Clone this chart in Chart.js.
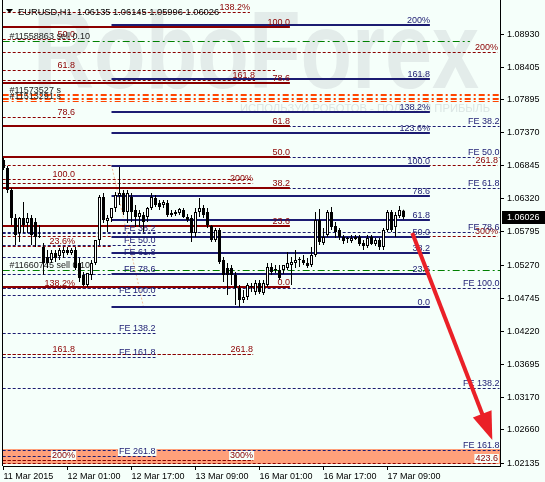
<!DOCTYPE html>
<html><head><meta charset="utf-8">
<script src="https://cdn.jsdelivr.net/npm/chart.js@4.4.1/dist/chart.umd.min.js"></script>
<style>html,body{margin:0;padding:0;background:#f5fffa;}canvas{display:block;}</style>
</head><body>
<canvas id="c" width="545" height="482"></canvas>
<script>
// ---------- data ----------
const symbolTitle = "EURUSD,H1";
const lastOHLC = ["1.06135", "1.06145", "1.05996", "1.06026"];
const lastPrice = 1.06026;
const xTickIndex = [0, 16, 32, 48, 64, 80, 96];
const xTickLabels = ["11 Mar 2015", "12 Mar 01:00", "12 Mar 17:00", "13 Mar 09:00", "16 Mar 01:00", "16 Mar 17:00", "17 Mar 09:00"];
const priceTicks = [1.02135, 1.02660, 1.03170, 1.03695, 1.04220, 1.04745, 1.05270, 1.05795, 1.06320, 1.06845, 1.07370, 1.07895, 1.08405, 1.08930];
const priceMin = 1.02088, priceMax = 1.09469;
const barMin = -0.125, barMax = 124.125;

const openP = [
1.06935,1.06808,1.06460,1.06016,1.05779,1.06016,1.05937,1.06016,1.05953,1.05715,
1.05557,1.05398,1.05351,1.05462,1.05414,1.05462,1.05509,1.05462,1.05509,1.05303,
1.05113,1.04955,1.05113,1.05303,1.05668,1.06349,1.05969,1.06016,1.06175,1.06365,
1.06412,1.06111,1.06349,1.06143,1.06032,1.06064,1.06032,1.06175,1.06333,1.06254,
1.06222,1.06254,1.06095,1.06080,1.06095,1.06143,1.06032,1.06016,1.05779,1.06111,
1.06175,1.06111,1.05889,1.05668,1.05826,1.05351,1.05224,1.05224,1.05113,1.04907,
1.04717,1.04765,1.04923,1.04844,1.04987,1.04828,1.04955,1.05240,1.05193,1.05193,
1.05193,1.05224,1.05272,1.05303,1.05351,1.05351,1.05303,1.05272,1.05430,1.05984,
1.05620,1.05747,1.06111,1.05889,1.05826,1.05715,1.05684,1.05652,1.05715,1.05715,
1.05620,1.05573,1.05715,1.05604,1.05668,1.05557,1.05826,1.06111,1.05873,1.06048,
1.06135];
const highP = [
1.06966,1.06840,1.06491,1.06080,1.06032,1.06270,1.06095,1.06064,1.06016,1.05905,
1.05620,1.05509,1.05509,1.05509,1.05541,1.05557,1.05557,1.05541,1.05557,1.05382,
1.05161,1.05066,1.05351,1.05668,1.06380,1.06412,1.06064,1.06095,1.06428,1.06824,
1.06460,1.06460,1.06412,1.06222,1.06143,1.06111,1.06190,1.06412,1.06380,1.06301,
1.06301,1.06301,1.06143,1.06143,1.06175,1.06175,1.06080,1.06064,1.06175,1.06333,
1.06222,1.06175,1.05905,1.05858,1.05858,1.05398,1.05303,1.05272,1.05161,1.04955,
1.04876,1.04987,1.04987,1.05034,1.05034,1.05034,1.05303,1.05303,1.05272,1.05272,
1.05272,1.05478,1.05398,1.05509,1.05398,1.05430,1.05382,1.05557,1.06111,1.06159,
1.05858,1.06143,1.06190,1.05953,1.05858,1.05747,1.05715,1.05747,1.05747,1.05747,
1.05668,1.05747,1.05747,1.05699,1.05699,1.05858,1.06143,1.06143,1.06111,1.06206,
1.06145];
const lowP = [
1.06776,1.06412,1.05905,1.05588,1.05636,1.05779,1.05779,1.05588,1.05557,1.05699,
1.05113,1.05224,1.05303,1.05319,1.05351,1.05382,1.05430,1.05430,1.05193,1.05002,
1.04939,1.04923,1.05034,1.05272,1.05588,1.05937,1.05794,1.05953,1.06111,1.06222,
1.06064,1.05937,1.05953,1.05873,1.05873,1.05794,1.05953,1.06143,1.06190,1.06143,
1.06175,1.06032,1.06032,1.06048,1.06064,1.06016,1.05953,1.05636,1.05715,1.06032,
1.06016,1.05858,1.05636,1.05636,1.05287,1.05002,1.04797,1.04955,1.04638,1.04606,
1.04670,1.04717,1.04844,1.04797,1.04812,1.04797,1.04923,1.05113,1.05145,1.05034,
1.05129,1.05193,1.04955,1.05224,1.05240,1.05272,1.05224,1.05240,1.05398,1.05588,
1.05588,1.05715,1.05826,1.05699,1.05668,1.05604,1.05620,1.05620,1.05668,1.05573,
1.05509,1.05541,1.05588,1.05573,1.05509,1.05509,1.05794,1.05794,1.05715,1.06016,
1.05996];
const closeP = [
1.06808,1.06460,1.06016,1.05747,1.06016,1.05905,1.06016,1.05747,1.05715,1.05731,
1.05303,1.05303,1.05462,1.05382,1.05509,1.05509,1.05462,1.05509,1.05224,1.05066,
1.04955,1.05145,1.05303,1.05668,1.06349,1.05984,1.06016,1.06175,1.06380,1.06412,
1.06111,1.06412,1.06111,1.06032,1.06095,1.05953,1.06175,1.06349,1.06222,1.06190,
1.06270,1.06064,1.06064,1.06111,1.06159,1.06032,1.05984,1.05779,1.06111,1.06175,
1.06064,1.05905,1.05668,1.05826,1.05319,1.05113,1.05113,1.05113,1.04907,1.04717,
1.04765,1.04955,1.04939,1.04987,1.04844,1.04987,1.05240,1.05161,1.05208,1.05066,
1.05272,1.05303,1.05319,1.05351,1.05367,1.05303,1.05256,1.05430,1.05984,1.05636,
1.05715,1.06111,1.05873,1.05794,1.05715,1.05652,1.05700,1.05699,1.05684,1.05604,
1.05573,1.05699,1.05604,1.05668,1.05557,1.05826,1.06111,1.05826,1.06064,1.06143,
1.06026];

// Fibonacci retracement (dark red, solid)
const fiboA_levels = ["100.0","78.6","61.8","50.0","38.2","23.6","0.0"];
const fiboA_prices = [1.09041,1.08160,1.07468,1.06982,1.06496,1.05895,1.04923];
const fiboA_time = [-0.2, 71.6];
// Fibonacci levels (navy, solid)
const fiboB_levels = ["0.0","23.6","38.2","50.0","61.8","78.6","100.0","123.6%","138.2%","161.8","200%"];
const fiboB_prices = [1.04606,1.05133,1.05459,1.05723,1.05987,1.06362,1.06840,1.07367,1.07693,1.08221,1.09074];
const fiboB_time = [27, 106.6];
// Fibonacci expansions (navy, dashed)
const feC1_levels = ["FE 38.2","FE 50.0","FE 61.8","FE 78.6","FE 100.0","FE 138.2","FE 161.8","FE 261.8"];
const feC1_prices = [1.05772,1.05586,1.05400,1.05135,1.04797,1.04195,1.03822,1.02245];
const feC1_time = [-0.2, 38];
const feC2_levels = ["FE 38.2","FE 50.0","FE 61.8","FE 78.6","FE 100.0","FE 138.2","FE 161.8"];
const feC2_prices = [1.07473,1.06983,1.06493,1.05796,1.04907,1.03321,1.02341];
const feC2_time = [-0.2, 124];
// other Fibonacci levels (dark red, dashed)
const fiboD_prices  = [1.09279,1.08851,1.08645,1.08360,1.08202,1.07616,1.06863,1.06634,1.06571,1.05731,1.05573,1.04907,1.03862,1.03862,1.02183,1.02183,1.02136];
const fiboD_end     = [61.6,17.9,123.6,67.9,62.9,17.1,123.6,62.4,62.4,123.6,27,27,62.4,62.4,62.4,62.4,123.6];
const fiboD_labels  = ["138.2%","50.0","200%","61.8","161.8","78.6","261.8","100.0","200%","300%","23.6%","138.2%","161.8","261.8","200%","300%","423.6"];
const fiboD_labelAt = [61.6,17.9,123.6,17.9,62.9,17.9,123.6,17.9,62.4,123.6,17.9,17.9,17.9,62.4,17.9,62.4,123.6];
const fiboD_boxed   = [0,0,1,0,0,0,1,0,0,1,0,0,0,0,1,1,1];
// orders
const orderPrices = [1.08820, 1.05193];
const orderEnd = [116.6, 124.2];
const orderTexts = ["#11558863 sell 0.10", "#11660745 sell 0.10"];
const stopPrices = [1.07964, 1.07901, 1.07869];
const stopTexts = ["#11573527 s", "", "#11513291 s"];
// target zone, trend line, arrow
const zonePrices = [1.02357, 1.02120];
const zoneTime = [-0.2, 124.2];
const trendFrom = [27, 1.06856], trendTo = [35, 1.04606];
const arrowFrom = [102.2, 1.05779], arrowTo = [122.2, 1.02500];

// ---------- drawing ----------
const BG = '#f5fffa', DR = '#8b0000', NV = '#1c1c72', FONT = '"Liberation Sans", Arial, sans-serif';
const bodies = openP.map((o, i) => ({x: i, y: [o, closeP[i]]}));
const wicks = lowP.map((l, i) => ({x: i, y: [l, highP[i]]}));

const overlay = {
  id: 'overlay',
  beforeDraw(chart) {
    const c = chart.ctx; c.save(); c.fillStyle = BG; c.fillRect(0, 0, chart.width, chart.height); c.restore();
  },
  beforeDatasetsDraw(chart) {
    const c = chart.ctx, a = chart.chartArea, xs = chart.scales.x, ys = chart.scales.y;
    const X = v => xs.getPixelForValue(v), Y = v => ys.getPixelForValue(v);
    c.save();
    c.beginPath(); c.rect(a.left, a.top, a.right - a.left, a.bottom - a.top); c.clip();
    // watermark
    c.save();
    c.fillStyle = '#e3ecea';
    c.font = 'bold 110px ' + FONT;
    c.translate(33, 88);
    const ww = c.measureText('RoboForex').width;
    c.scale(446 / ww, 1);
    c.fillText('RoboForex', 0, 0);
    c.restore();
    c.save();
    c.fillStyle = '#dbe6e4';
    c.font = '11px ' + FONT;
    const sub = 'ИСПОЛЬЗУЙ РОБОТОВ - ПОЛУЧАЙ ПРИБЫЛЬ';
    c.translate(240, 112);
    c.scale(250 / c.measureText(sub).width, 1);
    c.fillText(sub, 0, 0);
    c.restore();
    // zone
    c.fillStyle = '#ffa07a';
    const zy1 = Math.round(Y(zonePrices[0])), zy2 = Math.round(Y(zonePrices[1]));
    c.fillRect(X(zoneTime[0]), zy1, X(zoneTime[1]) - X(zoneTime[0]), zy2 - zy1);

    function hline(p, t0, t1, color, w, dash) {
      const y = (w % 2) ? Math.round(Y(p)) + 0.5 : Math.round(Y(p));
      c.beginPath(); c.setLineDash(dash); c.lineWidth = w; c.strokeStyle = color;
      c.moveTo(X(t0), y); c.lineTo(X(t1), y); c.stroke();
      return y;
    }
    // trend dotted
    c.beginPath(); c.setLineDash([2, 2]); c.lineWidth = 1; c.strokeStyle = '#f3c09a';
    c.moveTo(X(trendFrom[0]), Y(trendFrom[1])); c.lineTo(X(trendTo[0]), Y(trendTo[1])); c.stroke();
    // dashed dark red
    fiboD_prices.forEach((p, i) => hline(p, -0.2, fiboD_end[i], DR, 1, [3, 2]));
    // dashed navy expansions
    feC1_prices.forEach(p => hline(p, feC1_time[0], feC1_time[1], NV, 1, [3, 2]));
    feC2_prices.forEach(p => hline(p, feC2_time[0], feC2_time[1], NV, 1, [3, 2]));
    // solid fibo
    fiboA_prices.forEach(p => hline(p, fiboA_time[0], fiboA_time[1], DR, 2, []));
    fiboB_prices.forEach(p => hline(p, fiboB_time[0], fiboB_time[1], NV, 2, []));
    // orders
    orderPrices.forEach((p, i) => hline(p, -0.2, orderEnd[i], '#008000', 1, [7, 3, 2, 3]));
    stopPrices.forEach((p, i) => hline(p, -0.2, 124.2, '#ff4500', i === 2 ? 1 : 2, [6, 3, 2, 3]));
    c.setLineDash([]);

    // labels
    c.font = '9px ' + FONT;
    c.textBaseline = 'alphabetic';
    function lab(text, x, lineY, color, align, boxed) {
      const y = Math.round(lineY) - 2;
      c.textAlign = align;
      if (boxed) {
        const w = c.measureText(text).width;
        const x0 = align === 'right' ? x - w - 1 : x - 1;
        c.fillStyle = BG; c.fillRect(x0, y - 7, w + 2, 9);
      }
      c.fillStyle = color; c.fillText(text, x, y);
    }
    fiboD_prices.forEach((p, i) => lab(fiboD_labels[i], X(fiboD_labelAt[i]), Y(p), DR, 'right', fiboD_boxed[i]));
    feC1_prices.forEach((p, i) => lab(feC1_levels[i], X(feC1_time[1]), Y(p), NV, 'right', i === 7));
    feC2_prices.forEach((p, i) => lab(feC2_levels[i], X(feC2_time[1]), Y(p), NV, 'right', false));
    fiboA_prices.forEach((p, i) => lab(fiboA_levels[i], X(fiboA_time[1]), Y(p), DR, 'right', false));
    fiboB_prices.forEach((p, i) => lab(fiboB_levels[i], X(fiboB_time[1]), Y(p), NV, 'right', false));
    orderPrices.forEach((p, i) => lab(orderTexts[i], X(1.5), Y(p), '#202020', 'left', false));
    stopPrices.forEach((p, i) => { if (stopTexts[i]) lab(stopTexts[i], X(1.5), Y(p), '#202020', 'left', false); });
    c.restore();
  },
  afterDatasetsDraw(chart) {
    const c = chart.ctx, a = chart.chartArea, xs = chart.scales.x, ys = chart.scales.y;
    const X = v => xs.getPixelForValue(v), Y = v => ys.getPixelForValue(v);
    c.save();
    // arrow
    const x0 = X(arrowFrom[0]), y0 = Y(arrowFrom[1]), x1 = X(arrowTo[0]), y1 = Y(arrowTo[1]);
    const dx = x1 - x0, dy = y1 - y0, L = Math.hypot(dx, dy), ux = dx / L, uy = dy / L;
    const hl = 28, hw = 10, bx = x1 - ux * hl, by = y1 - uy * hl;
    c.strokeStyle = '#ea2027'; c.fillStyle = '#ea2027'; c.lineWidth = 4; c.lineCap = 'butt';
    c.beginPath(); c.moveTo(x0, y0); c.lineTo(bx + ux * 3, by + uy * 3); c.stroke();
    c.beginPath(); c.moveTo(x1, y1); c.lineTo(bx - uy * hw, by + ux * hw); c.lineTo(bx + uy * hw, by - ux * hw); c.closePath(); c.fill();
    // header
    c.fillStyle = '#000';
    c.beginPath(); c.moveTo(6, 9); c.lineTo(13, 9); c.lineTo(9.5, 13); c.closePath(); c.fill();
    c.font = '9.3px ' + FONT; c.textAlign = 'left'; c.textBaseline = 'alphabetic';
    c.fillText(symbolTitle + '  ' + lastOHLC.join(' '), 18, 15);
    c.restore();
  },
  afterDraw(chart) {
    const c = chart.ctx, a = chart.chartArea, ys = chart.scales.y;
    c.save();
    c.strokeStyle = '#000'; c.lineWidth = 1;
    c.beginPath(); c.moveTo(a.left - 0.5, a.top); c.lineTo(a.left - 0.5, a.bottom); c.stroke();
    const py = Math.round(ys.getPixelForValue(lastPrice));
    c.fillStyle = '#000'; c.fillRect(502, py - 6, 43, 13);
    c.fillStyle = '#fff'; c.font = '9px ' + FONT; c.textAlign = 'left'; c.textBaseline = 'middle';
    c.fillText(lastPrice.toFixed(5), 507, py + 0.5);
    c.restore();
  }
};

new Chart(document.getElementById('c'), {
  type: 'bar',
  data: {
    datasets: [
      { data: bodies, backgroundColor: openP.map((o, i) => closeP[i] >= o ? '#ffffff' : '#000000'),
        borderColor: '#000', borderWidth: 1, borderSkipped: false, barThickness: 3, minBarLength: 1,
        grouped: false, inflateAmount: 0 },
      { data: wicks, backgroundColor: '#000', borderWidth: 0, barThickness: 1, grouped: false, inflateAmount: 0 }
    ]
  },
  options: {
    responsive: false, animation: false, devicePixelRatio: 1, events: [],
    layout: { padding: { left: 3, right: 0, top: 0, bottom: 0 } },
    plugins: { legend: { display: false }, tooltip: { enabled: false } },
    scales: {
      x: {
        type: 'linear', min: barMin, max: barMax, offset: false,
        grid: { offset: false, drawOnChartArea: false, drawTicks: true, tickLength: 4, color: '#000' },
        border: { display: true, color: '#000' },
        ticks: { align: 'start', maxRotation: 0, autoSkip: false, padding: 1, color: '#000',
                 font: { family: FONT, size: 9 }, callback: (v, i) => xTickLabels[i] },
        afterBuildTicks: s => { s.ticks = xTickIndex.map(v => ({ value: v })); },
        afterFit: s => { s.height = 16; s.paddingLeft = 0; s.paddingRight = 0; }
      },
      y: {
        position: 'right', min: priceMin, max: priceMax,
        grid: { drawOnChartArea: false, drawTicks: true, tickLength: 4, color: '#000' },
        border: { display: true, color: '#000' },
        ticks: { padding: 3, autoSkip: false, color: '#000', font: { family: FONT, size: 9 },
                 callback: v => Number(v).toFixed(5) },
        afterBuildTicks: s => { s.ticks = priceTicks.map(v => ({ value: v })); },
        afterFit: s => { s.width = 45; s.paddingTop = 0; s.paddingBottom = 0; }
      }
    }
  },
  plugins: [overlay]
});
</script>
</body></html>
